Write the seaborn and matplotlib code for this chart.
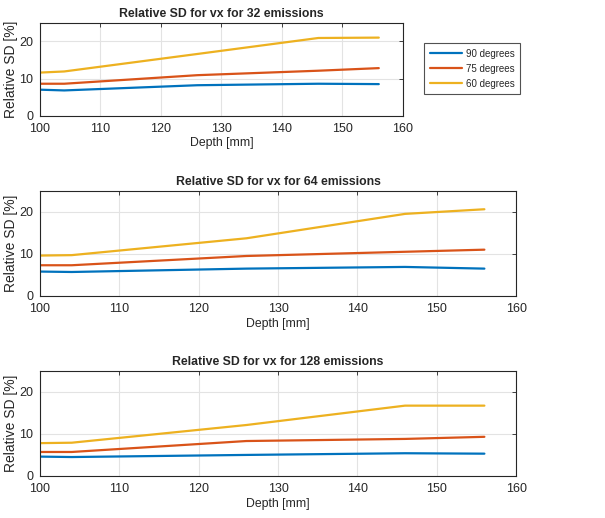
import matplotlib
matplotlib.use("Agg")
import matplotlib.pyplot as plt
import seaborn as sns
import pandas as pd

# Depth sample points [mm]
depth = [100, 104, 126, 146, 156]
angles = ["90 degrees", "75 degrees", "60 degrees"]
emissions = [32, 64, 128]

# Relative SD [%] per emission count, per angle
sd_32_90 = [7.0, 6.8, 8.2, 8.6, 8.5]
sd_32_75 = [8.6, 8.6, 10.9, 12.1, 12.8]
sd_32_60 = [11.6, 11.9, 16.6, 20.9, 21.0]

sd_64_90 = [5.8, 5.7, 6.5, 6.9, 6.5]
sd_64_75 = [7.3, 7.3, 9.5, 10.5, 11.0]
sd_64_60 = [9.6, 9.7, 13.7, 19.5, 20.6]

sd_128_90 = [4.6, 4.5, 5.0, 5.4, 5.3]
sd_128_75 = [5.7, 5.7, 8.3, 8.8, 9.3]
sd_128_60 = [7.8, 7.9, 12.1, 16.7, 16.7]

series = {
    32: [sd_32_90, sd_32_75, sd_32_60],
    64: [sd_64_90, sd_64_75, sd_64_60],
    128: [sd_128_90, sd_128_75, sd_128_60],
}

colors = ["#0072BD", "#D95319", "#EDB120"]


def build_frame(n):
    rows = []
    for angle, vals in zip(angles, series[n]):
        for d, v in zip(depth, vals):
            rows.append({"depth": d, "sd": v, "angle": angle})
    return pd.DataFrame(rows)


sns.set_theme(style="whitegrid")
plt.rcParams.update({
    "font.family": ["Liberation Sans", "DejaVu Sans"],
    "axes.edgecolor": "#262626",
    "axes.linewidth": 0.8,
    "grid.color": "#e3e3e3",
    "grid.linewidth": 0.8,
    "xtick.labelsize": 9,
    "ytick.labelsize": 9,
    "axes.labelsize": 8.8,
    "xtick.color": "#262626",
    "ytick.color": "#262626",
    "axes.labelcolor": "#262626",
})

W = 605
fig = plt.figure(figsize=(6.05, 5.18), dpi=100)
positions = [
    [0.0661, 0.7766, 0.600, 0.1795],
    [0.0661, 0.4286, 0.787, 0.2032],
    [0.0661, 0.0811, 0.787, 0.2033],
]

for n, pos in zip(emissions, positions):
    ax = fig.add_axes(pos)
    df = build_frame(n)
    sns.lineplot(data=df, x="depth", y="sd", hue="angle", palette=colors,
                 linewidth=1.6, ax=ax, legend=(n == 32))
    ax.set_xlim(100, 160)
    ax.set_ylim(0, 25)
    ax.set_xticks(range(100, 161, 10))
    ax.set_yticks([0, 10, 20])
    ax.set_xlabel("Depth [mm]", labelpad=2)
    ax.set_ylabel("Relative SD [%]", fontsize=10)
    # right edge of the rotated label ~18 px from the figure's left edge
    ax.yaxis.set_label_coords((18 - pos[0] * W) / (pos[2] * W), 0.5)
    ax.set_title(f"Relative SD for vx for {n} emissions",
                 fontsize=8.8, fontweight="bold", pad=4)
    ax.tick_params(direction="in", length=3, width=0.6, top=True, right=True)
    ax.tick_params(axis="x", pad=5)
    ax.tick_params(axis="y", pad=5)
    for s in ax.spines.values():
        s.set_visible(True)
    if n == 32:
        handles, labels = ax.get_legend_handles_labels()
        ax.get_legend().remove()
        leg = fig.legend(handles, labels, loc="upper left",
                         bbox_to_anchor=(424 / W, 1 - 43 / 518), fontsize=7,
                         frameon=True, fancybox=False, edgecolor="#262626",
                         handlelength=3.3, handletextpad=0.4,
                         borderpad=0.6, labelspacing=0.5, borderaxespad=0)
        leg.get_frame().set_linewidth(0.8)

fig.savefig("out.png", dpi=100)
